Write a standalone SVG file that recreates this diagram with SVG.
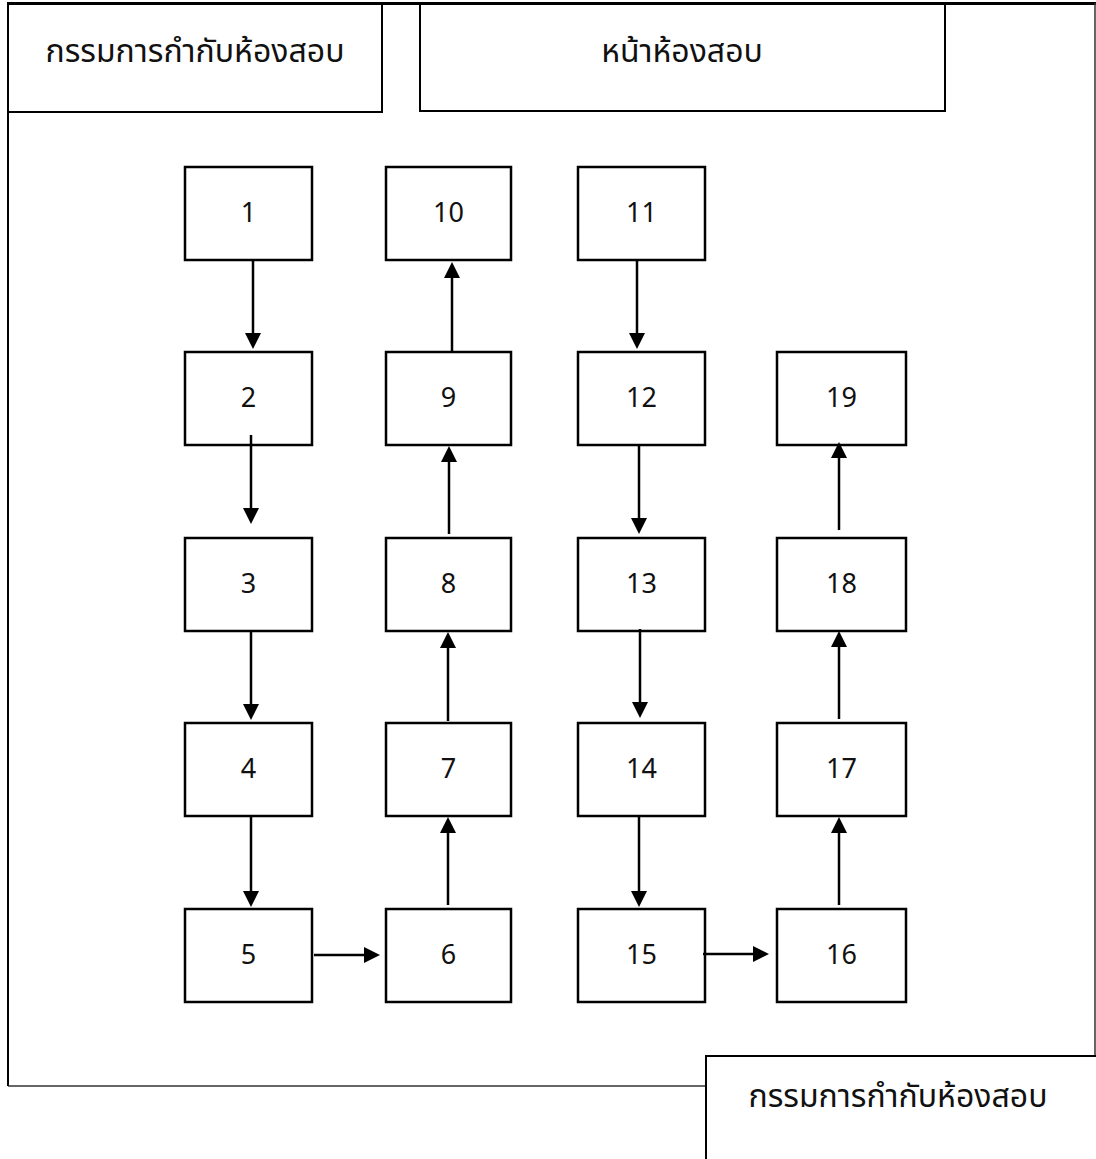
<svg xmlns="http://www.w3.org/2000/svg" width="1096" height="1159" viewBox="0 0 1096 1159">
<style>
.frame{fill:none;stroke:#000;stroke-width:2}
.thin{fill:none;stroke:#333;stroke-width:1.5}
.node rect{fill:#fff;stroke:#000;stroke-width:2.5}
.lbl{font-family:"Noto Sans Thai","Noto Sans","Liberation Sans",sans-serif;font-size:27px;fill:#111;text-anchor:middle}
.th{font-family:"Noto Sans Thai","Noto Sans","Liberation Sans",sans-serif;font-size:32px;fill:#111;text-anchor:middle}
.conn line{stroke:#000;stroke-width:2.5;marker-end:url(#ah)}
</style>
<defs>
<marker id="ah" markerUnits="userSpaceOnUse" markerWidth="16" markerHeight="16" refX="12" refY="8" orient="auto">
<path d="M0,0 L16,8 L0,16 z" fill="#000"/>
</marker>
</defs>
<rect width="1096" height="1159" fill="#fff"/>
<g id="frame">
<line x1="8" y1="3.5" x2="1096" y2="3.5" stroke="#000" stroke-width="3"/>
<line x1="8" y1="3" x2="8" y2="1086" class="frame"/>
<line x1="8" y1="1086" x2="706" y2="1086" class="thin"/>
<line x1="1095" y1="3" x2="1095" y2="1056" class="thin"/>
</g>
<g id="header-left">
<rect x="8" y="3" width="374" height="109" class="frame"/>
<text x="195" y="62" class="th">กรรมการกำกับห้องสอบ</text>
</g>
<g id="header-front">
<rect x="420" y="3" width="525" height="108" class="frame"/>
<text x="682" y="62" class="th">หน้าห้องสอบ</text>
</g>
<g id="footer-right">
<rect x="706" y="1056" width="400" height="120" class="frame"/>
<text x="898" y="1107" class="th">กรรมการกำกับห้องสอบ</text>
</g>
<g id="n1" class="node"><rect x="185" y="167" width="127" height="93"/><text x="248.5" y="222" class="lbl">1</text></g>
<g id="n2" class="node"><rect x="185" y="352" width="127" height="93"/><text x="248.5" y="407" class="lbl">2</text></g>
<g id="n3" class="node"><rect x="185" y="538" width="127" height="93"/><text x="248.5" y="593" class="lbl">3</text></g>
<g id="n4" class="node"><rect x="185" y="723" width="127" height="93"/><text x="248.5" y="778" class="lbl">4</text></g>
<g id="n5" class="node"><rect x="185" y="909" width="127" height="93"/><text x="248.5" y="964" class="lbl">5</text></g>
<g id="n6" class="node"><rect x="386" y="909" width="125" height="93"/><text x="448.5" y="964" class="lbl">6</text></g>
<g id="n7" class="node"><rect x="386" y="723" width="125" height="93"/><text x="448.5" y="778" class="lbl">7</text></g>
<g id="n8" class="node"><rect x="386" y="538" width="125" height="93"/><text x="448.5" y="593" class="lbl">8</text></g>
<g id="n9" class="node"><rect x="386" y="352" width="125" height="93"/><text x="448.5" y="407" class="lbl">9</text></g>
<g id="n10" class="node"><rect x="386" y="167" width="125" height="93"/><text x="448.5" y="222" class="lbl">10</text></g>
<g id="n11" class="node"><rect x="578" y="167" width="127" height="93"/><text x="641.5" y="222" class="lbl">11</text></g>
<g id="n12" class="node"><rect x="578" y="352" width="127" height="93"/><text x="641.5" y="407" class="lbl">12</text></g>
<g id="n13" class="node"><rect x="578" y="538" width="127" height="93"/><text x="641.5" y="593" class="lbl">13</text></g>
<g id="n14" class="node"><rect x="578" y="723" width="127" height="93"/><text x="641.5" y="778" class="lbl">14</text></g>
<g id="n15" class="node"><rect x="578" y="909" width="127" height="93"/><text x="641.5" y="964" class="lbl">15</text></g>
<g id="n16" class="node"><rect x="777" y="909" width="129" height="93"/><text x="841.5" y="964" class="lbl">16</text></g>
<g id="n17" class="node"><rect x="777" y="723" width="129" height="93"/><text x="841.5" y="778" class="lbl">17</text></g>
<g id="n18" class="node"><rect x="777" y="538" width="129" height="93"/><text x="841.5" y="593" class="lbl">18</text></g>
<g id="n19" class="node"><rect x="777" y="352" width="129" height="93"/><text x="841.5" y="407" class="lbl">19</text></g>
<g id="connectors" class="conn">
<line x1="253" y1="260" x2="253" y2="345"/>
<line x1="251" y1="435" x2="251" y2="520"/>
<line x1="251" y1="631" x2="251" y2="716"/>
<line x1="251" y1="817" x2="251" y2="903"/>
<line x1="314" y1="955" x2="376" y2="955"/>
<line x1="448" y1="905" x2="448" y2="821"/>
<line x1="448" y1="721" x2="448" y2="636"/>
<line x1="449" y1="534" x2="449" y2="450"/>
<line x1="452" y1="351" x2="452" y2="266"/>
<line x1="637" y1="260" x2="637" y2="345"/>
<line x1="639" y1="445" x2="639" y2="530"/>
<line x1="640" y1="629" x2="640" y2="714"/>
<line x1="639" y1="817" x2="639" y2="903"/>
<line x1="703" y1="954" x2="765" y2="954"/>
<line x1="839" y1="905" x2="839" y2="821"/>
<line x1="839" y1="719" x2="839" y2="635"/>
<line x1="839" y1="530" x2="839" y2="446"/>
</g>
</svg>
